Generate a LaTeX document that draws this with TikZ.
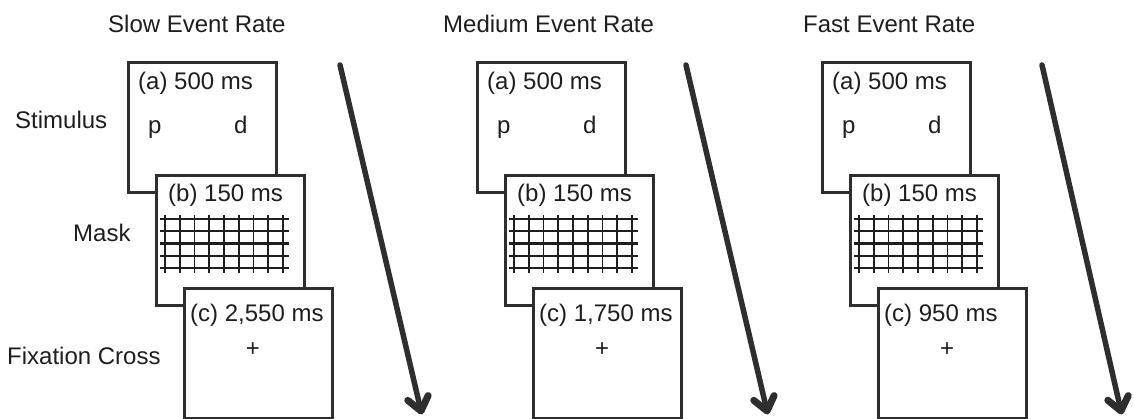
\documentclass[tikz,border=0pt]{standalone}
\usepackage{fontspec}
\setmainfont{Liberation Sans}
\usetikzlibrary{calc}
\definecolor{ink}{HTML}{1E1E1E}
\definecolor{frame}{HTML}{2E2E2E}

\tikzset{
  lbl/.style={inner sep=0pt, anchor=base west, text=ink, font=\fontsize{24}{28}\selectfont},
  card/.style={draw=frame, line width=2.8pt, fill=white, minimum width=148pt,
    minimum height=130pt, inner sep=0pt, anchor=north west},
  maskv/.style={draw=ink, line width=1.8pt},
  maskh/.style={draw=ink, line width=2.3pt},
  timeshaft/.style={draw=frame, line width=5.5pt, line cap=round},
  timebarb/.style={draw=frame, line width=7pt, line cap=round, line join=round},
}

% #1 prefix, #2 left edge of card (a), #3 title, #4 title left edge,
% #5 label of card (c), #6 arrow start x, #7 arrow tip x
\newcommand\eventpanel[7]{%
  \node[lbl] (#1-title) at (#4,33) {#3};
  % (a) stimulus
  \node[card] (#1-a) at (#2,61) {};
  \node[lbl] (#1-alab) at ({#2+11},90) {(a) 500 ms};
  \node[lbl] (#1-p) at ({#2+21},134) {p};
  \node[lbl] (#1-d) at ({#2+107},134) {d};
  % (b) mask
  \node[card] (#1-b) at ({#2+28},174) {};
  \node[lbl] (#1-blab) at ({#2+41},202) {(b) 150 ms};
  \foreach \i in {0,...,8}
    \draw[maskv] ({#2+38+\i*14.75},215) -- ({#2+38+\i*14.75},273);
  \foreach \j in {0,...,4}
    \draw[maskh] ({#2+33},{219+12.25*\j}) -- ({#2+162},{219+12.25*\j});
  % (c) fixation cross
  \node[card] (#1-c) at ({#2+56},287) {};
  \node[lbl] (#1-clab) at ({#2+63},321) {#5};
  \node[lbl, anchor=center] (#1-fix) at ({#2+126},350) {+};
  % time arrow with a short, heavy barbed head
  \coordinate (#1-from) at (#6,65);
  \coordinate (#1-to) at (#7,411);
  \draw[timeshaft] (#1-from) -- (#1-to);
  \draw[timebarb] ($(#1-to)!17pt!38:(#1-from)$) -- (#1-to)
                  -- ($(#1-to)!17pt!-38:(#1-from)$);
}

\begin{document}
\begin{tikzpicture}[x=1pt,y=-1pt]
  \useasboundingbox (0,0) rectangle (1134,419);

  \node[lbl] (stimulus) at (15,129) {Stimulus};
  \node[lbl] (mask) at (73,242) {Mask};
  \node[lbl] (fixation) at (7,364) {Fixation Cross};

  \eventpanel{slow}{127}{Slow Event Rate}{108}{(c) 2,550 ms}{340}{421}
  \eventpanel{medium}{476}{Medium Event Rate}{443}{(c) 1,750 ms}{686}{767}
  \eventpanel{fast}{821}{Fast Event Rate}{803}{(c) 950 ms}{1042}{1121}
\end{tikzpicture}
\end{document}
